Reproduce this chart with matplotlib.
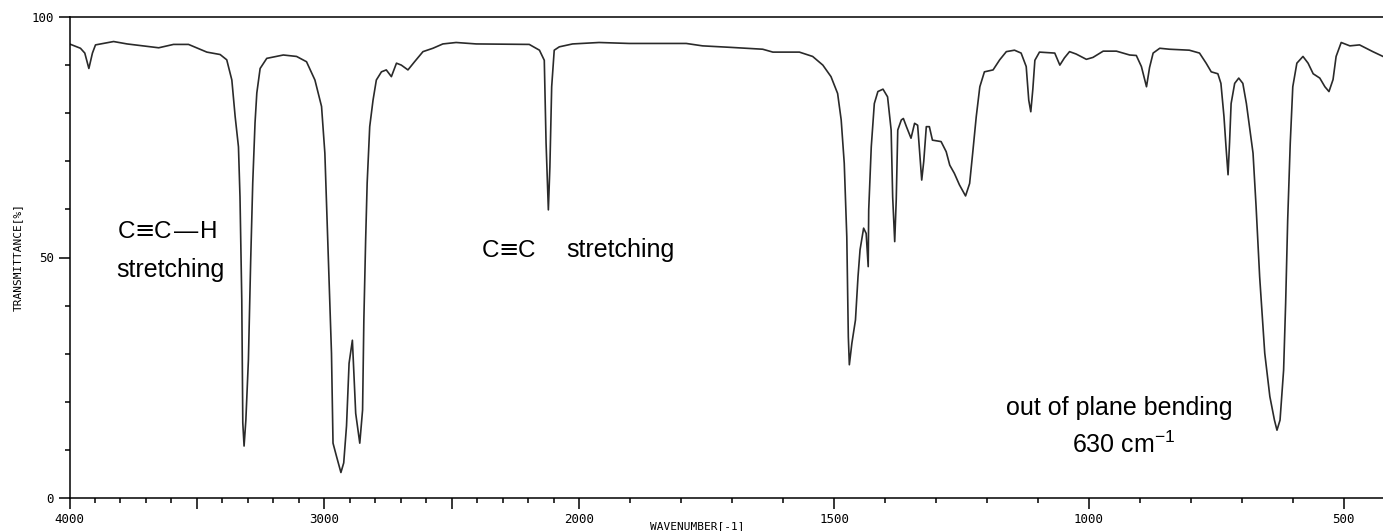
import numpy as np
import matplotlib
matplotlib.use('Agg')
import matplotlib.pyplot as plt
from matplotlib.ticker import FixedLocator

plt.rcParams['mathtext.fontset'] = 'custom'
plt.rcParams['mathtext.rm'] = 'Liberation Sans'

# spectrum: wavenumber (cm-1) and transmittance (%)
wavenumber = [4000, 3957, 3940, 3924, 3910, 3898, 3827, 3774, 3650, 3592,
              3533, 3461, 3409, 3383, 3363, 3350, 3337, 3331, 3324, 3320,
              3315, 3308, 3298, 3289, 3281, 3272, 3265, 3252, 3226, 3161,
              3109, 3070, 3037, 3011, 2998, 2985, 2972, 2966, 2952, 2935,
              2924, 2913, 2903, 2890, 2877, 2861, 2850, 2845, 2838, 2832,
              2822, 2809, 2796, 2776, 2757, 2737, 2717, 2698, 2672, 2646,
              2613, 2574, 2535, 2483, 2404, 2196, 2156, 2137, 2130, 2121,
              2115, 2108, 2098, 2078, 2026, 1961, 1902, 1790, 1758, 1705,
              1640, 1620, 1568, 1542, 1522, 1506, 1493, 1486, 1480, 1475,
              1472, 1470, 1465, 1458, 1453, 1449, 1442, 1437, 1433, 1432,
              1427, 1421, 1414, 1404, 1395, 1388, 1385, 1381, 1378, 1375,
              1368, 1364, 1358, 1349, 1342, 1336, 1331, 1328, 1324, 1319,
              1313, 1307, 1290, 1280, 1273, 1264, 1254, 1242, 1234, 1228,
              1221, 1214, 1205, 1188, 1175, 1162, 1146, 1133, 1123, 1118,
              1114, 1110, 1106, 1097, 1067, 1057, 1048, 1038, 1025, 1005,
              992, 972, 946, 920, 907, 897, 887, 881, 874, 861,
              842, 803, 783, 770, 760, 747, 741, 735, 731, 727,
              724, 721, 714, 706, 698, 691, 685, 678, 672, 665,
              655, 645, 636, 631, 625, 618, 614, 610, 605, 600,
              592, 580, 570, 560, 547, 537, 529, 521, 515, 505,
              488, 469, 443, 423]
transmittance = [94.4, 93.5, 92.5, 89.3, 92.5, 94.2, 94.9, 94.4, 93.6, 94.3,
                 94.3, 92.7, 92.2, 91.1, 86.9, 79.3, 73.0, 62.6, 41.2, 15.6,
                 10.8, 16.2, 28.7, 49.5, 65.5, 78.0, 84.2, 89.3, 91.4, 92.1,
                 91.8, 90.7, 86.9, 81.4, 71.7, 50.9, 30.1, 11.4, 8.6, 5.3,
                 7.3, 15.0, 28.0, 32.8, 17.6, 11.4, 18.3, 37.0, 53.6, 65.5,
                 77.2, 82.7, 86.9, 88.6, 89.0, 87.6, 90.4, 90.0, 89.0, 90.7,
                 92.8, 93.5, 94.4, 94.7, 94.4, 94.3, 93.1, 91.0, 73.8, 59.9,
                 68.9, 85.5, 93.1, 93.8, 94.4, 94.7, 94.5, 94.5, 94.0, 93.7,
                 93.3, 92.7, 92.7, 91.8, 90.0, 87.6, 84.1, 78.6, 69.6, 54.3,
                 33.5, 27.7, 32.2, 37.0, 46.0, 51.6, 56.1, 55.0, 48.1, 59.9,
                 73.0, 82.0, 84.5, 85.0, 83.4, 76.5, 62.6, 53.3, 62.0, 76.5,
                 78.6, 78.9, 77.2, 74.8, 77.9, 77.5, 70.3, 66.1, 70.0, 77.2,
                 77.2, 74.4, 74.1, 72.0, 69.2, 67.5, 65.1, 62.8, 65.4, 71.7,
                 79.3, 85.5, 88.6, 89.0, 91.1, 92.8, 93.1, 92.5, 89.7, 82.7,
                 80.3, 85.0, 91.0, 92.7, 92.5, 90.0, 91.5, 92.8, 92.3, 91.2,
                 91.6, 92.9, 92.9, 92.1, 92.0, 89.7, 85.5, 89.5, 92.5, 93.5,
                 93.3, 93.1, 92.5, 90.4, 88.6, 88.2, 86.2, 79.3, 73.0, 67.2,
                 74.0, 82.0, 86.2, 87.3, 86.2, 82.0, 77.2, 71.7, 60.6, 46.0,
                 30.1, 21.1, 16.2, 14.1, 16.2, 26.6, 40.5, 57.8, 73.7, 85.5,
                 90.4, 91.8, 90.4, 88.2, 87.3, 85.5, 84.5, 87.0, 91.8, 94.7,
                 94.0, 94.2, 92.8, 91.8]
assert len(wavenumber) == len(transmittance)

major_ticks = [4000, 3500, 3000, 2500, 2000, 1500, 1000, 500]
major_labels = ['4000', '', '3000', '', '2000', '1500', '1000', '500']

W, H = 1383, 531


# below 2000 cm-1 the axis is stretched two times
def fwd(w):
    w = np.asarray(w, dtype=float)
    return np.where(w >= 2000, w - 2000, 2 * (w - 2000))


def inv(u):
    u = np.asarray(u, dtype=float)
    return np.where(u >= 0, u + 2000, u / 2 + 2000)


fig = plt.figure(figsize=(W / 100, H / 100), dpi=100)
ax = fig.add_axes([69.5 / W, 1 - 498 / H, 1 - 69.5 / W, (498 - 17) / H])
ax.set_xscale('function', functions=(fwd, inv))
ax.plot(wavenumber, transmittance, color='#2a2a2a', lw=1.2)
ax.set_xlim(4000, 423)
ax.set_ylim(0, 100)

ax.spines['right'].set_visible(False)
for s in ['left', 'top', 'bottom']:
    ax.spines[s].set_linewidth(1.1)

ax.xaxis.set_major_locator(FixedLocator(major_ticks))
ax.set_xticklabels(major_labels)
ax.xaxis.set_minor_locator(FixedLocator([w for w in range(4000, 420, -100) if w not in major_ticks]))
ax.yaxis.set_major_locator(FixedLocator([0, 50, 100]))
ax.set_yticklabels(['0', '50', '100'])
ax.yaxis.set_minor_locator(FixedLocator(range(10, 100, 10)))
ax.tick_params(which='major', direction='out', length=8, width=1.1, pad=3,
               labelsize=9, top=False, right=False)
ax.tick_params(which='minor', direction='out', length=3.5, width=1.1, top=False, right=False)
for lab in ax.get_xticklabels() + ax.get_yticklabels():
    lab.set_family('DejaVu Sans Mono')

fig.text(18 / W, 1 - 257 / H, 'TRANSMITTANCE[%]', rotation=90, ha='center', va='center',
         family='DejaVu Sans Mono', fontsize=8)
fig.text(697 / W, 1 - 526 / H, 'WAVENUMBER[-1]', ha='center', va='center',
         family='DejaVu Sans Mono', fontsize=8)

lib = 'Liberation Sans'
renderer = fig.canvas.get_renderer()


def formula(x, y, pieces, size=17.5):
    # write the pieces one after the other, x and y in pixels
    for s, family, gap in pieces:
        x += gap
        t = fig.text(x / W, 1 - y / H, s, ha='left', va='baseline', fontsize=size, family=family)
        x = t.get_window_extent(renderer).x1


formula(118, 238, [('C', lib, 0), ('≡', 'DejaVu Sans', -1), ('C', lib, -1),
                   ('—', lib, 3), ('H', lib, 1)])
formula(482, 256.7, [('C', lib, 0), ('≡', 'DejaVu Sans', -1), ('C', lib, -1)])

ax.text(3603, 46.0, 'stretching', ha='center', va='baseline', fontsize=18, family=lib)
ax.text(2052, 50.2, 'stretching', ha='left', va='baseline', fontsize=18, family=lib)
ax.text(1163, 17.3, 'out of plane bending', ha='left', va='baseline', fontsize=18, family=lib)
ax.text(1034, 9.3, '630 cm$^{\\mathregular{-1}}$', ha='left', va='baseline', fontsize=18, family=lib)

fig.savefig('out.png', dpi=100)
